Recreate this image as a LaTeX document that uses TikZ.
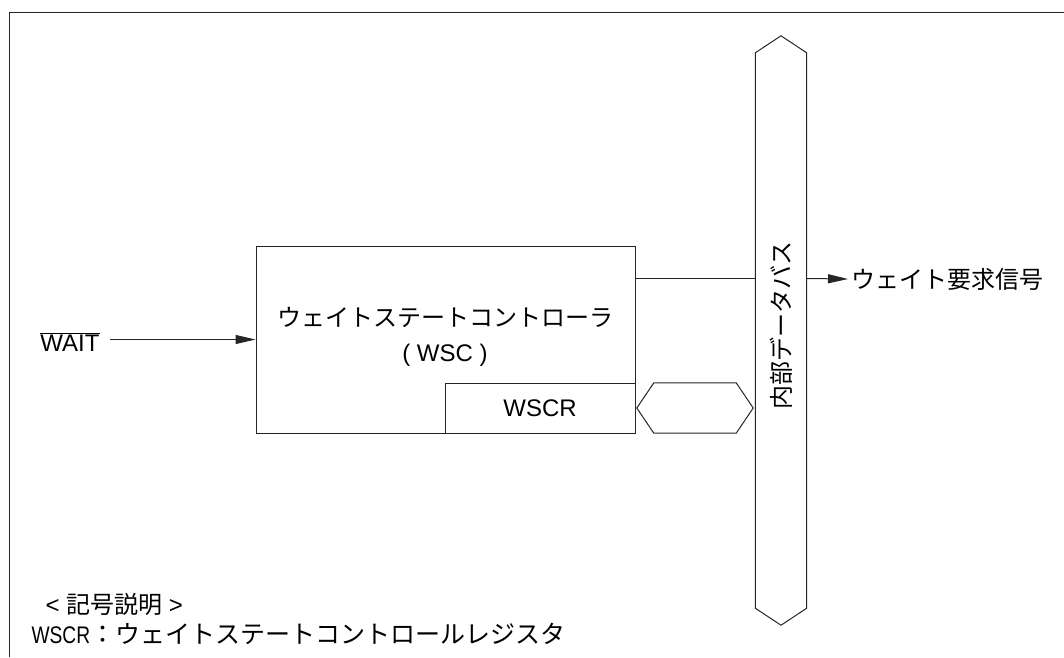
\documentclass[tikz,border=0pt]{standalone}
\usepackage{fontspec}
\setmainfont{Liberation Sans}
\newfontfamily\jp{Noto Sans CJK JP}
\usetikzlibrary{arrows.meta,positioning}

\begin{document}
\begin{tikzpicture}[x=1pt, y=-1pt,
    every node/.style={font=\fontsize{24}{30}\selectfont},
    block/.style={rectangle, draw=black!85, line width=1pt, inner sep=0pt},
    wire/.style={draw=black!85, line width=1pt},
    sig/.style={wire, -{Triangle[length=20pt, width=9pt]}},
    busshape/.style={rectangle, draw=none, inner sep=0pt},
    busline/.style={draw=black!85, line width=1pt, line join=miter}
]
\useasboundingbox (0,0) rectangle (1064,657);

% Frame - only top and left edges visible
\draw[wire] (9,657) -- (9,12) -- (1064,12);

% Wait state controller
\node[block, minimum width=379pt, minimum height=187pt] (wsc) at (445.5,339.5) {};
\node[align=center, font=\fontsize{24}{35}\selectfont] (wsclabel) at (445,337)
    {{\jp ウェイトステートコントローラ}\\( WSC )};

% WSCR register - lower right corner of the controller
\node[block, minimum width=190pt, minimum height=50pt, anchor=south east] (wscr) at (wsc.south east) {WSCR};

% Internal data bus
\node[busshape, minimum width=51pt, minimum height=589pt] (bus) at (781,330.5) {};
\draw[busline] (bus.north) -- ([yshift=-17pt]bus.north east) -- ([yshift=17pt]bus.south east)
    -- (bus.south) -- ([yshift=17pt]bus.south west) -- ([yshift=-17pt]bus.north west) -- cycle;
\node[rotate=90] (buslabel) at (781,325) {\jp 内部データバス};

% Link between WSCR and the bus
\node[busshape, minimum width=116pt, minimum height=50pt] (link) at (695,408) {};
\draw[busline] (link.west) -- ([xshift=17pt]link.north west) -- ([xshift=-17pt]link.north east)
    -- (link.east) -- ([xshift=-17pt]link.south east) -- ([xshift=17pt]link.south west) -- cycle;

% WAIT input
\node (wait) at (70,342) {$\overline{\mbox{WAIT}}$};
\coordinate (waitout) at ([xshift=7pt]wait.east);
\draw[sig] (waitout |- wsc.west) -- (wsc.west);

% Wait request output through the bus
\node[anchor=west] (reqlabel) at (848,279) {\jp ウェイト要求信号};
\coordinate (tap) at ([yshift=-33pt]wsc.north east);
\draw[wire] (tap) -- (tap -| bus.west);
\draw[sig] (tap -| bus.east) -- (reqlabel.west);

% Legend
\node[anchor=west] (legtitle) at (42,604) {< {\jp 記号説明} >};
\node[anchor=west] (legtext) at (28,634)
    {\scalebox{0.8}[1]{WSCR}{\jp\fontsize{25}{30}\selectfont ：ウェイトステートコントロールレジスタ}};

\end{tikzpicture}
\end{document}
